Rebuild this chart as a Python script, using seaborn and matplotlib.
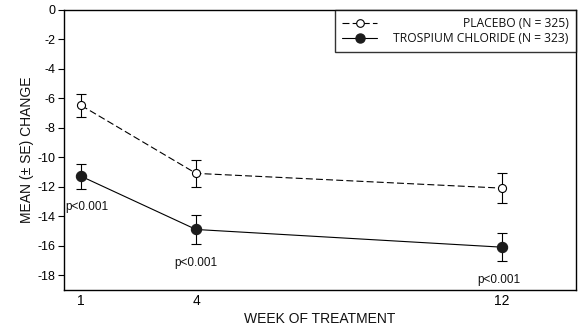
import matplotlib
matplotlib.use("Agg")
import matplotlib.pyplot as plt
from matplotlib.lines import Line2D
import seaborn as sns
import pandas as pd

# Mean change from baseline (with standard error) by week of treatment
weeks = [1, 4, 12]
placebo_mean = [-6.5, -11.1, -12.1]
placebo_se = [0.75, 0.9, 1.0]
trospium_mean = [-11.3, -14.9, -16.1]
trospium_se = [0.85, 1.0, 0.95]
p_labels = ["p<0.001", "p<0.001", "p<0.001"]
y_ticks = list(range(0, -19, -2))
series_names = ["PLACEBO (N = 325)", "TROSPIUM CHLORIDE (N = 323)"]

df = pd.DataFrame({
    "week": weeks * 2,
    "mean": placebo_mean + trospium_mean,
    "se": placebo_se + trospium_se,
    "group": [series_names[0]] * len(weeks) + [series_names[1]] * len(weeks),
})

sns.set_theme(style="ticks")
plt.rcParams["font.family"] = ["Liberation Sans", "DejaVu Sans"]
plt.rcParams["axes.unicode_minus"] = False
plt.rcParams["lines.scale_dashes"] = False

fig = plt.figure(figsize=(5.88, 3.32), dpi=100)
ax = fig.add_axes([64 / 588, 1 - 290 / 332, (576 - 64) / 588, (290 - 9.5) / 332])

dash = (0, (5, 2.3))
dark = "#1c1c1c"

# error bars behind the markers
for name in series_names:
    sub = df[df["group"] == name]
    ax.errorbar(sub["week"], sub["mean"], yerr=sub["se"], fmt="none",
                ecolor="black", elinewidth=0.8, capsize=3.6, capthick=0.8,
                zorder=2)

plac = df[df["group"] == series_names[0]]
tros = df[df["group"] == series_names[1]]

sns.lineplot(data=plac, x="week", y="mean", ax=ax, color="black",
             linestyle=dash, linewidth=0.8, marker="o", markersize=5.8,
             markerfacecolor="white", markeredgecolor="black",
             markeredgewidth=0.8, errorbar=None, legend=False, zorder=3)
sns.lineplot(data=tros, x="week", y="mean", ax=ax, color="black",
             linewidth=0.8, marker="o", markersize=7.4,
             markerfacecolor=dark, markeredgecolor=dark,
             markeredgewidth=0.8, errorbar=None, legend=False, zorder=3)

# significance labels under the trospium points
offsets = [(6, -31), (0, -34), (-3, -33)]
for w, m, lab, off in zip(tros["week"], tros["mean"], p_labels, offsets):
    ax.annotate(lab, (w, m), xytext=off, textcoords="offset pixels",
                ha="center", va="center", fontsize=8.5, color="#111111")

ax.set_xlim(0.55, 13.93)
ax.set_ylim(-19, 0)
ax.set_xticks(weeks)
ax.set_xticklabels([str(w) for w in weeks])
ax.set_yticks(y_ticks)
ax.set_yticklabels([str(t) for t in y_ticks])
ax.tick_params(axis="y", direction="out", length=4, width=0.8,
               labelsize=9, pad=2, colors="black")
ax.tick_params(axis="x", length=0, labelsize=10, pad=3, colors="black")
for s in ax.spines.values():
    s.set_visible(True)
    s.set_color("black")
    s.set_linewidth(1.0)

ax.set_xlabel("WEEK OF TREATMENT", fontsize=10, color="#111111", labelpad=3)
ax.set_ylabel("MEAN (\u00b1 SE) CHANGE", fontsize=10, color="#111111",
              labelpad=3)

handles = [
    Line2D([], [], color="black", linestyle=dash, linewidth=0.8, marker="o",
           markersize=5.5, markerfacecolor="white", markeredgecolor="black",
           markeredgewidth=0.8),
    Line2D([], [], color="black", linewidth=0.8, marker="o", markersize=6.5,
           markerfacecolor=dark, markeredgecolor=dark),
]
leg = ax.legend(handles, series_names, loc="upper right",
                bbox_to_anchor=(1.0, 1.0), borderaxespad=0,
                prop={"family": ["Open Sans", "DejaVu Sans"], "size": 8.7},
                frameon=True, fancybox=False, shadow=False,
                handlelength=2.9, handletextpad=1.35, borderpad=0.6,
                labelspacing=0.2)
leg.get_frame().set_edgecolor("black")
leg.get_frame().set_linewidth(1.0)
for t in leg.get_texts():
    t.set_color("#111111")

# right-align the legend labels inside the box
fig.canvas.draw()
r = fig.canvas.get_renderer()
widths = [t.get_window_extent(r).width for t in leg.get_texts()]
wmax = max(widths)
for t, w in zip(leg.get_texts(), widths):
    t.set_x(wmax - w)

fig.savefig("out.png", dpi=100)
